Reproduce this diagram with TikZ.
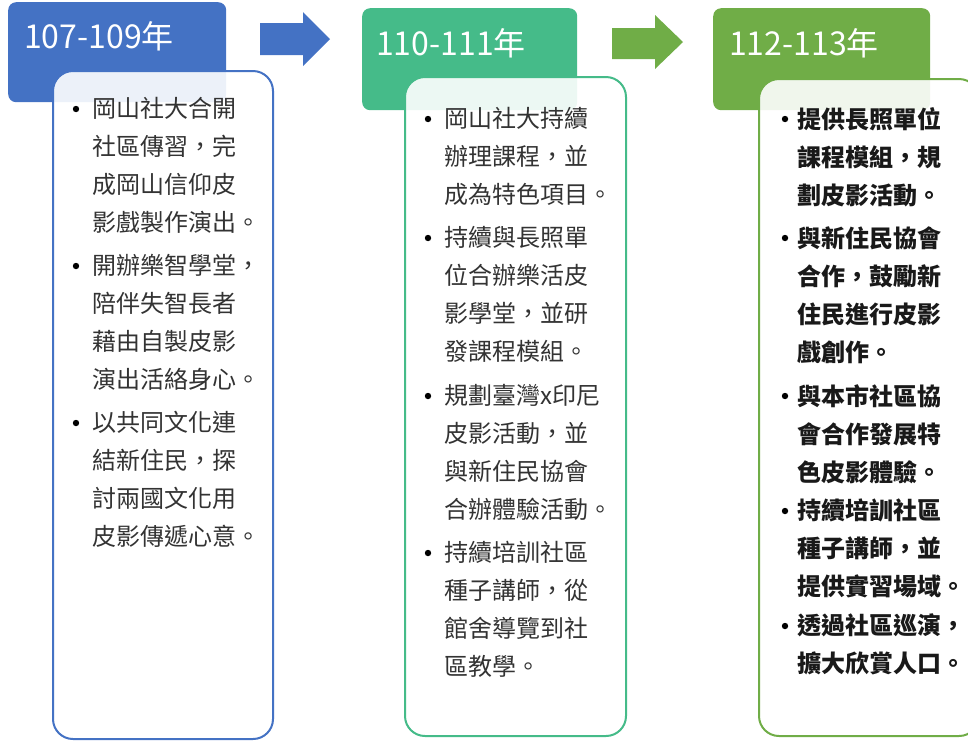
\documentclass[tikz,border=0pt]{standalone}
\usepackage{fontspec}
\setmainfont{Noto Sans CJK TC}[Script=CJK, Language=Chinese Traditional]
\usepackage{tikz}
\usepackage[table]{xcolor}

\definecolor{blueone}{HTML}{4472C4}
\definecolor{greentwo}{HTML}{45BB89}
\definecolor{greenthree}{HTML}{70AD47}

\tikzset{
	head/.style={rounded corners=8pt, anchor=north west, inner sep=0pt},
	card/.style={draw=#1, line width=2pt, rounded corners=20pt, fill=white, fill opacity=0.9, anchor=north west, inner sep=0pt},
	year/.style={anchor=base west, text=white, inner sep=0pt, font=\fontsize{32}{32}\selectfont},
	entry/.style={anchor=north west, align=left, inner sep=0pt, text=black!80, font=\fontsize{24}{38}\selectfont},
	entrybold/.style={entry, text=black!90, font=\fontsize{24}{38}\selectfont\bfseries},
}

\begin{document}
\begin{tikzpicture}[x=1pt,y=-1pt]
			\useasboundingbox (0,0) rectangle (968,740);

			% headers
			\node[head, fill=blueone, minimum width=218pt, minimum height=100pt] (h1) at (8,2) {};
			\node[head, fill=greentwo, minimum width=215pt, minimum height=102pt] (h2) at (362,8) {};
			\node[head, fill=greenthree, minimum width=217pt, minimum height=102pt] (h3) at (713,8) {};

			\node[year] (t1) at (24,48) {107-109年};
			\node[year] (t2) at (376,55) {110-111年};
			\node[year] (t3) at (729,55) {112-113年};

			% block arrows
			\fill[blueone] (260,23) -- (303,23) -- (303,12) -- (330,39) -- (303,66) -- (303,55) -- (260,55) -- cycle;
			\fill[greenthree] (612,28) -- (655,28) -- (655,15) -- (683,42) -- (655,69) -- (655,59) -- (612,59) -- cycle;

			% cards
			\node[card=blueone, minimum width=220pt, minimum height=668pt] (c1) at (52,70) {};
			\node[card=greentwo, minimum width=221pt, minimum height=659pt] (c2) at (404,76) {};
			\node[card=greenthree, minimum width=220pt, minimum height=657pt] (c3) at (758,78) {};

			\node[entry] (i11) at (92,97) {岡山社大合開\\社區傳習，完\\成岡山信仰皮\\影戲製作演出。};
			\node[entry] (i12) at (92,254) {開辦樂智學堂，\\陪伴失智長者\\藉由自製皮影\\演出活絡身心。};
			\node[entry] (i13) at (92,411) {以共同文化連\\結新住民，探\\討兩國文化用\\皮影傳遞心意。};

			\node[entry] (i21) at (444,107) {岡山社大持續\\辦理課程，並\\成為特色項目。};
			\node[entry] (i22) at (444,226) {持續與長照單\\位合辦樂活皮\\影學堂，並研\\發課程模組。};
			\node[entry] (i23) at (444,384) {規劃臺灣x印尼\\皮影活動，並\\與新住民協會\\合辦體驗活動。};
			\node[entry] (i24) at (444,541) {持續培訓社區\\種子講師，從\\館舍導覽到社\\區教學。};

			\node[entrybold] (i31) at (797,107) {提供長照單位\\課程模組，規\\劃皮影活動。};
			\node[entrybold] (i32) at (797,226) {與新住民協會\\合作，鼓勵新\\住民進行皮影\\戲創作。};
			\node[entrybold] (i33) at (797,384) {與本市社區協\\會合作發展特\\色皮影體驗。};
			\node[entrybold] (i34) at (797,499) {持續培訓社區\\種子講師，並\\提供實習場域。};
			\node[entrybold] (i35) at (797,614) {透過社區巡演，\\擴大欣賞人口。};

			% bullets
			\foreach \n in {i11,i12,i13,i21,i22,i23,i24}
			\fill[black] ([shift={(-16,12)}]\n.north west) circle (3.2);
			\foreach \n in {i31,i32,i33,i34,i35}
			\fill[black] ([shift={(-12,12)}]\n.north west) circle (3.2);
		\end{tikzpicture}
\end{document}
